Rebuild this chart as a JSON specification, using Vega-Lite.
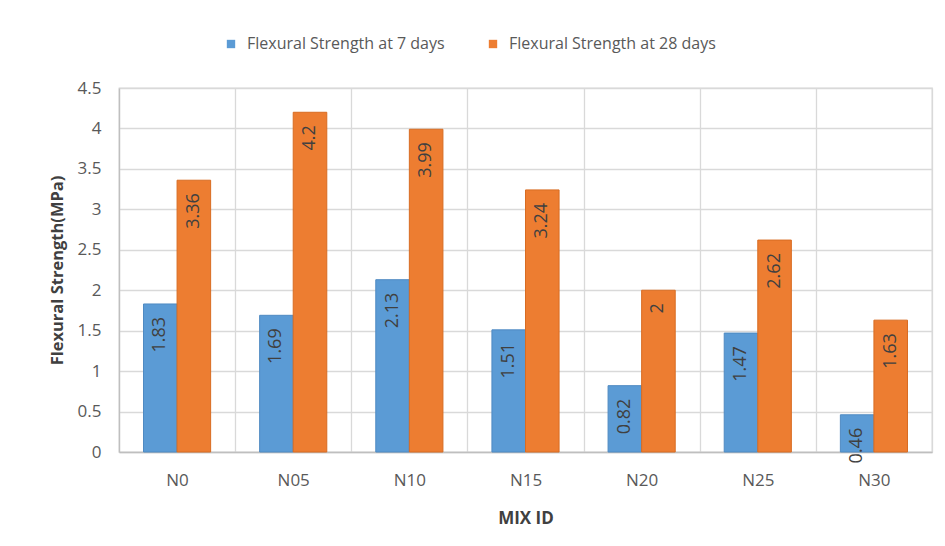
{
  "$schema": "https://vega.github.io/schema/vega-lite/v6.json",
  "autosize": "none",
  "width": 813,
  "height": 364,
  "padding": {"left": 119, "top": 88, "right": 13, "bottom": 94},
  "background": "white",
  "config": {
    "font": "Open Sans",
    "view": {"stroke": "#d9d9d9", "strokeWidth": 1.3},
    "axis": {
      "labelFont": "Open Sans",
      "labelColor": "#595959",
      "labelFontSize": 17,
      "titleFont": "Open Sans",
      "titleColor": "#404040",
      "titleFontSize": 17,
      "titleFontWeight": "bold",
      "gridColor": "#d9d9d9",
      "gridWidth": 1.3,
      "domainColor": "#bfbfbf",
      "domainWidth": 1.3
    }
  },
  "data": {
    "values": [
      {"mix": "N0", "series": "Flexural Strength at 7 days", "value": 1.83},
      {"mix": "N0", "series": "Flexural Strength at 28 days", "value": 3.36},
      {"mix": "N05", "series": "Flexural Strength at 7 days", "value": 1.69},
      {"mix": "N05", "series": "Flexural Strength at 28 days", "value": 4.2},
      {"mix": "N10", "series": "Flexural Strength at 7 days", "value": 2.13},
      {"mix": "N10", "series": "Flexural Strength at 28 days", "value": 3.99},
      {"mix": "N15", "series": "Flexural Strength at 7 days", "value": 1.51},
      {"mix": "N15", "series": "Flexural Strength at 28 days", "value": 3.24},
      {"mix": "N20", "series": "Flexural Strength at 7 days", "value": 0.82},
      {"mix": "N20", "series": "Flexural Strength at 28 days", "value": 2},
      {"mix": "N25", "series": "Flexural Strength at 7 days", "value": 1.47},
      {"mix": "N25", "series": "Flexural Strength at 28 days", "value": 2.62},
      {"mix": "N30", "series": "Flexural Strength at 7 days", "value": 0.46},
      {"mix": "N30", "series": "Flexural Strength at 28 days", "value": 1.63}
    ]
  },
  "encoding": {
    "x": {
      "field": "mix",
      "type": "nominal",
      "sort": null,
      "scale": {"paddingInner": 0, "paddingOuter": 0},
      "axis": {
        "title": "MIX ID",
        "labelAngle": 0,
        "ticks": false,
        "tickBand": "extent",
        "grid": true,
        "labelPadding": 20,
        "titlePadding": 22
      }
    },
    "xOffset": {
      "field": "series",
      "type": "nominal",
      "sort": ["Flexural Strength at 7 days", "Flexural Strength at 28 days"],
      "scale": {"paddingInner": 0, "paddingOuter": 0.73}
    },
    "y": {
      "field": "value",
      "type": "quantitative",
      "scale": {"domain": [0, 4.5], "nice": false},
      "axis": {
        "title": "Flexural Strength(MPa)",
        "values": [0, 0.5, 1, 1.5, 2, 2.5, 3, 3.5, 4, 4.5],
        "format": "~g",
        "ticks": false,
        "labelPadding": 18,
        "titlePadding": 12,
        "titleFontSize": 16.5,
        "domain": true
      }
    }
  },
  "layer": [
    {
      "mark": {"type": "bar", "strokeWidth": 1},
      "encoding": {
        "color": {
          "field": "series",
          "type": "nominal",
          "sort": ["Flexural Strength at 7 days", "Flexural Strength at 28 days"],
          "scale": {"range": ["#5b9bd5", "#ed7d31"]},
          "legend": {
            "title": null,
            "orient": "none",
            "legendX": 104,
            "legendY": -52,
            "direction": "horizontal",
            "symbolType": "square",
            "symbolSize": 70,
            "symbolStrokeWidth": 0,
            "labelFont": "Open Sans",
            "labelFontSize": 16,
            "labelColor": "#595959",
            "labelLimit": 400,
            "labelOffset": 8,
            "columnPadding": 40
          }
        },
        "stroke": {
          "field": "series",
          "type": "nominal",
          "sort": ["Flexural Strength at 7 days", "Flexural Strength at 28 days"],
          "scale": {"range": ["#4f8ac2", "#d86c22"]},
          "legend": null
        }
      }
    },
    {
      "mark": {
        "type": "text",
        "angle": 270,
        "align": "right",
        "baseline": "middle",
        "dx": -13,
        "fontSize": 18,
        "font": "Open Sans",
        "color": "#404040"
      },
      "encoding": {
        "text": {"field": "value", "type": "quantitative"}
      }
    }
  ]
}
